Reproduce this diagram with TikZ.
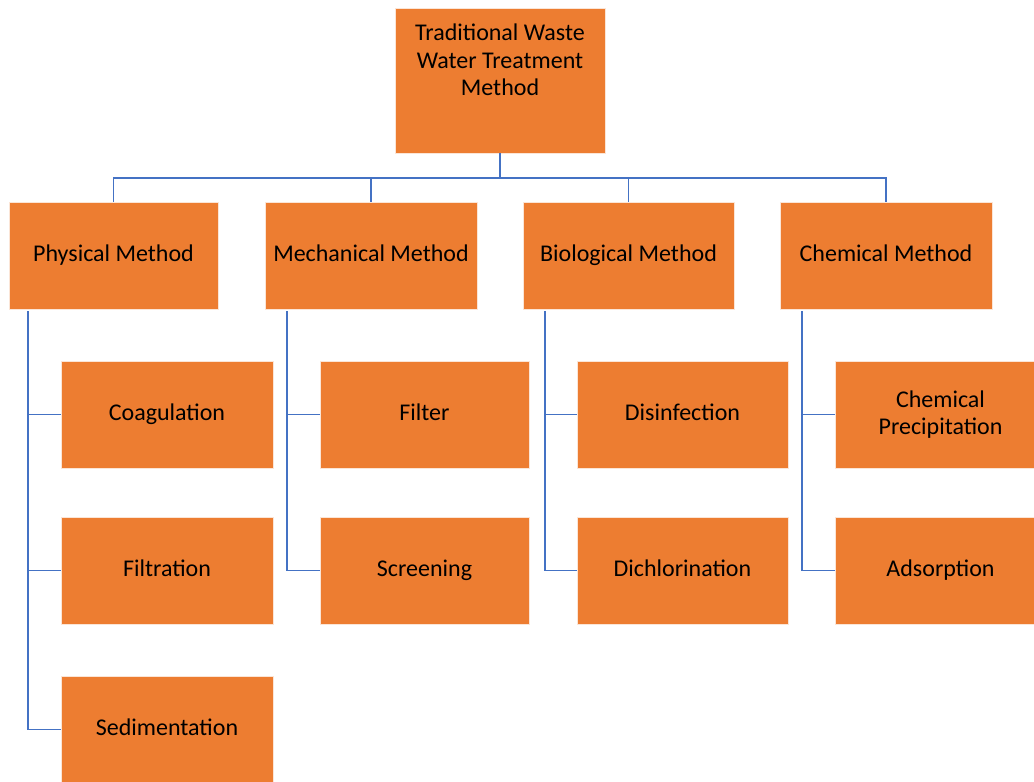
\documentclass[tikz,border=0pt]{standalone}
\usepackage{fontspec}
\setmainfont{Carlito}
\definecolor{boxorange}{HTML}{ED7D31}
\definecolor{lineblue}{HTML}{4472C4}
\begin{document}
\begin{tikzpicture}[x=1pt,y=-1pt,
  box/.style={rectangle,fill=boxorange,draw=white!80!boxorange,line width=0.6pt,
    minimum width=211pt,minimum height=107pt,inner sep=2pt,align=center,
    font=\fontsize{24}{27.5}\selectfont},
  one/.style={text height=16.5pt,text depth=5pt},
  conn/.style={draw=lineblue,line width=1.8pt}]
\useasboundingbox (0,0) rectangle (1034,782);
\clip (0,0) rectangle (1034,782);
\fill[white] (0,0) rectangle (1034,782);
% root
\node[box,minimum width=210pt,minimum height=145pt] (root) at (500,80.5) {};
\node[font=\fontsize{24}{27.5}\selectfont,align=center,inner sep=0pt] (rootlabel) at (500,60) {Traditional Waste\\Water Treatment\\Method};
% level 1
\node[box,one,minimum width=209pt] (phys) at (113.5,255.5) {Physical Method};
\node[box,one,minimum width=212pt] (mech) at (371,255.5) {Mechanical Method};
\node[box,one] (bio) at (628.5,255.5) {Biological Method};
\node[box,one,minimum width=212pt] (chem) at (886,255.5) {Chemical Method};
% level 2
\node[box,one,minimum width=212pt] (coag) at (167,414.5) {Coagulation};
\node[box,one,minimum width=212pt] (filt) at (167,570.5) {Filtration};
\node[box,one,minimum width=212pt] (sedi) at (167,729.5) {Sedimentation};
\node[box,one,minimum width=209pt] (filter) at (424.5,414.5) {Filter};
\node[box,one,minimum width=209pt] (screen) at (424.5,570.5) {Screening};
\node[box,one] (disinf) at (682.5,414.5) {Disinfection};
\node[box,one] (dichl) at (682.5,570.5) {Dichlorination};
\node[box] (chprec) at (940.5,414.5) {Chemical\\Precipitation};
\node[box,one] (adsorp) at (940.5,570.5) {Adsorption};
% connectors top
\coordinate (bus) at (500,178);
\draw[conn,line width=2.6pt] (root.south) -- (bus);
\draw[conn] (bus) -| (phys.north);
\draw[conn] (bus) -| (mech.north);
\draw[conn] (bus) -| (bio.north);
\draw[conn] (bus) -| (chem.north);
% vertical spines
\coordinate (pv) at (28,311);
\coordinate (mv) at (287,311);
\coordinate (bv) at (545,311);
\coordinate (cv) at (802,311);
\draw[conn] (pv) |- (coag.west);
\draw[conn] (pv) |- (filt.west);
\draw[conn] (pv) |- (sedi.west);
\draw[conn] (mv) |- (filter.west);
\draw[conn] (mv) |- (screen.west);
\draw[conn] (bv) |- (disinf.west);
\draw[conn] (bv) |- (dichl.west);
\draw[conn] (cv) |- (chprec.west);
\draw[conn] (cv) |- (adsorp.west);
\end{tikzpicture}
\end{document}
